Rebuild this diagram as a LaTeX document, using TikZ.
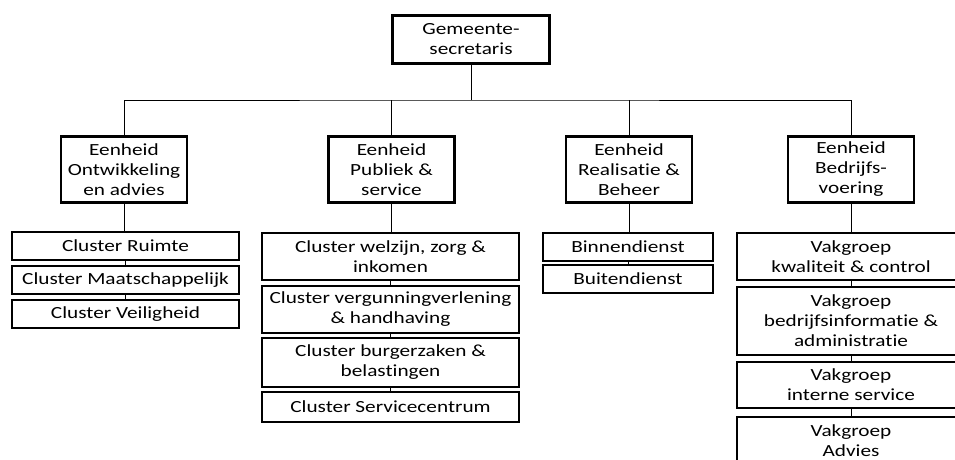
\documentclass[tikz,border=0pt]{standalone}
\usepackage{fontspec}
\setmainfont{Carlito}[FakeStretch=1.25, Ligatures=NoCommon]

\begin{document}
\begin{tikzpicture}[x=1pt, y=-1pt,
  box/.style={draw, line width=2.2pt, align=center, inner sep=0pt, font=\fontsize{17}{20}\selectfont},
  unit/.style={box, minimum width=126pt, minimum height=66pt},
  link/.style={line width=1pt}]
\useasboundingbox (0,0) rectangle (955,459);
\clip (0,0) rectangle (955,459);

\node [box, line width=2.6pt, minimum width=157pt, minimum height=48pt] (gs) at (471,39.5) {Gemeente-\\secretaris};

\node [unit] (e1) at (124,169.5) {Eenheid\\Ontwikkeling\\en advies};
\node [unit] (e2) at (391.5,169.5) {Eenheid\\Publiek \&\\service};
\node [unit] (e3) at (629,169.5) {Eenheid\\Realisatie \&\\Beheer};
\node [unit] (e4) at (851,169.5) {Eenheid\\Bedrijfs-\\voering};

% clusters ontwikkeling
\node [box, minimum width=227pt, minimum height=28pt] (c11) at (125.5,246) {Cluster Ruimte};
\node [box, minimum width=227pt, minimum height=28pt] (c12) at (125.5,280) {Cluster Maatschappelijk};
\node [box, minimum width=227pt, minimum height=28pt] (c13) at (125.5,314) {Cluster Veiligheid};

% clusters publiek
\node [box, minimum width=257pt, minimum height=47pt] (c21) at (390.5,256.5) {Cluster welzijn, zorg \&\\inkomen};
\node [box, minimum width=257pt, minimum height=47pt] (c22) at (390.5,309.5) {Cluster vergunningverlening\\\& handhaving};
\node [box, minimum width=257pt, minimum height=49pt] (c23) at (390.5,362.5) {Cluster burgerzaken \&\\belastingen};
\node [box, minimum width=257pt, minimum height=30pt] (c24) at (390.5,407) {Cluster Servicecentrum};

% realisatie
\node [box, minimum width=170pt, minimum height=28pt] (c31) at (628,247) {Binnendienst};
\node [box, minimum width=170pt, minimum height=28pt] (c32) at (628,279) {Buitendienst};

% bedrijfsvoering
\node [box, minimum width=228pt, minimum height=47pt] (c41) at (851,256.5) {Vakgroep\\kwaliteit \& control};
\node [box, minimum width=228pt, minimum height=68pt] (c42) at (851,321) {Vakgroep\\bedrijfsinformatie \&\\administratie};
\node [box, minimum width=228pt, minimum height=46pt] (c43) at (851,385) {Vakgroep\\interne service};
\node [box, minimum width=228pt, minimum height=47pt] (c44) at (851,440.5) {Vakgroep\\Advies};

\coordinate (bar) at (471,100);
\draw [link] (gs.south) -- (bar);
\draw [link] (e1.north) |- (bar) -| (e4.north);
\draw [link] (e2.north) -- (e2.north |- bar);
\draw [link] (e3.north) -- (e3.north |- bar);

\draw [link] (e1.south) -- (e1.south |- c11.north);
\draw [link] (e2.south) -- (e2.south |- c21.north);
\draw [link] (e3.south) -- (e3.south |- c31.north);
\draw [link] (e4.south) -- (c41.north);

\draw [link] (c11.south) -- (c12.north);
\draw [link] (c12.south) -- (c13.north);
\draw [link] (c21.south) -- (c22.north);
\draw [link] (c22.south) -- (c23.north);
\draw [link] (c23.south) -- (c24.north);
\draw [link] (c31.south) -- (c32.north);
\draw [link] (c41.south) -- (c42.north);
\draw [link] (c42.south) -- (c43.north);
\draw [link] (c43.south) -- (c44.north);
\end{tikzpicture}
\end{document}
